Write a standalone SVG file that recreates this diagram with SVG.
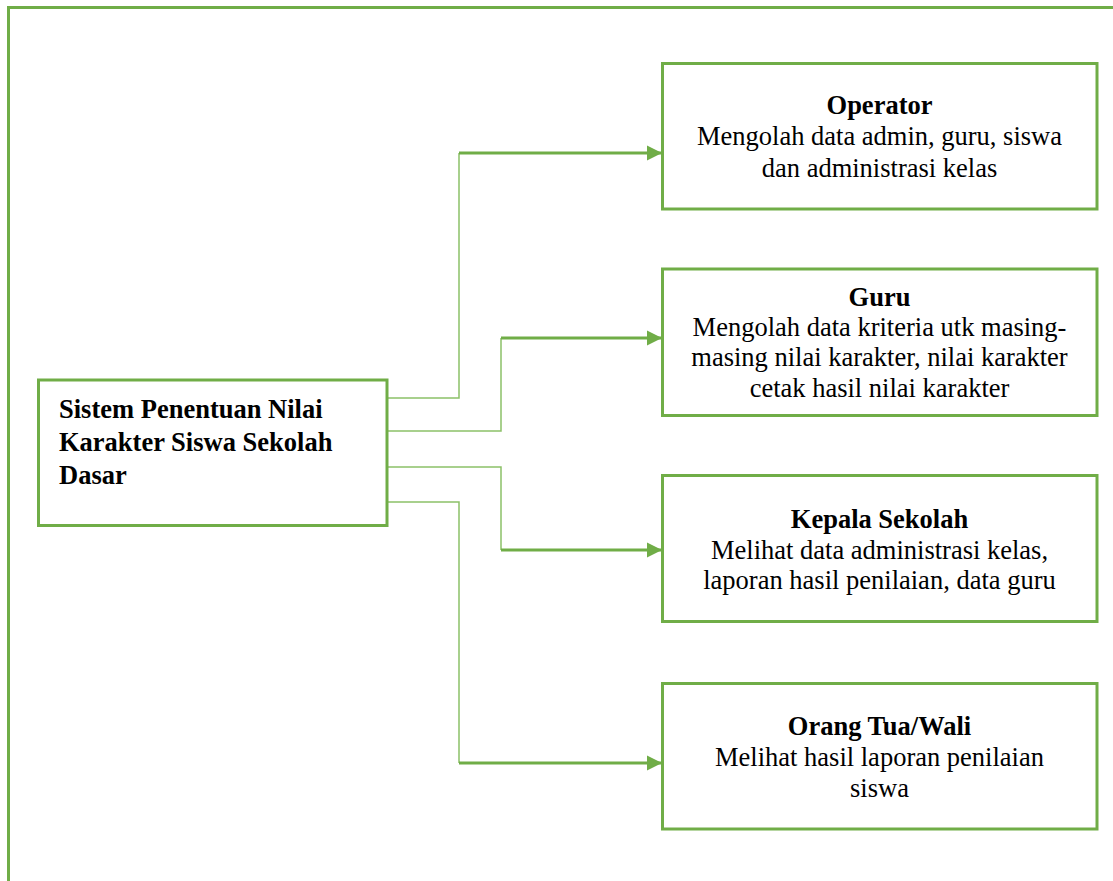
<svg xmlns="http://www.w3.org/2000/svg" width="1113" height="881" viewBox="0 0 1113 881">
<style>
.box{fill:#fff;stroke:#70ad47;stroke-width:3}
.frame{fill:none;stroke:#70ad47;stroke-width:3}
.thin{fill:none;stroke:#8cc168;stroke-width:1.5}
.thick{fill:none;stroke:#70ad47;stroke-width:3}
text{font-family:"Liberation Serif","Times New Roman",serif;font-size:26.5px;fill:#000}
.c{text-anchor:middle}
.b{font-weight:bold}
</style>
<defs>
<marker id="arr" markerUnits="userSpaceOnUse" markerWidth="16" markerHeight="16" refX="15" refY="8" orient="auto">
<path d="M0,0.5 L15,8 L0,15.5 Z" fill="#70ad47"/>
</marker>
</defs>
<rect width="1113" height="881" fill="#fff"/>
<path class="frame" d="M8.5,881 V7.5 H1113"/>
<g id="connectors">
<path class="thin" d="M387,398 H459 V153"/>
<path class="thick" d="M459,153 H662" marker-end="url(#arr)"/>
<path class="thin" d="M387,431 H501 V338"/>
<path class="thick" d="M501,338 H662" marker-end="url(#arr)"/>
<path class="thin" d="M387,467 H501 V550"/>
<path class="thick" d="M501,550 H662" marker-end="url(#arr)"/>
<path class="thin" d="M387,502 H459 V763"/>
<path class="thick" d="M459,763 H662" marker-end="url(#arr)"/>
</g>
<g id="sistem">
<rect class="box" x="38.5" y="380" width="348.5" height="145.5"/>
<text class="b" x="59" y="418">Sistem Penentuan Nilai</text>
<text class="b" x="59" y="451">Karakter Siswa Sekolah</text>
<text class="b" x="59" y="484">Dasar</text>
</g>
<g id="operator">
<rect class="box" x="662.5" y="63.5" width="434.5" height="145.5"/>
<text class="c b" x="879.5" y="114">Operator</text>
<text class="c" x="879.5" y="145">Mengolah data admin, guru, siswa</text>
<text class="c" x="879.5" y="177">dan administrasi kelas</text>
</g>
<g id="guru">
<rect class="box" x="662.5" y="269" width="434.5" height="146.5"/>
<text class="c b" x="879.5" y="306">Guru</text>
<text class="c" x="879.5" y="336">Mengolah data kriteria utk masing-</text>
<text class="c" x="879.5" y="366">masing nilai karakter, nilai karakter</text>
<text class="c" x="879.5" y="397">cetak hasil nilai karakter</text>
</g>
<g id="kepala">
<rect class="box" x="662.5" y="475.5" width="434.5" height="146"/>
<text class="c b" x="879.5" y="528">Kepala Sekolah</text>
<text class="c" x="879.5" y="559">Melihat data administrasi kelas,</text>
<text class="c" x="879.5" y="589">laporan hasil penilaian, data guru</text>
</g>
<g id="orangtua">
<rect class="box" x="662.5" y="683.5" width="434.5" height="145.5"/>
<text class="c b" x="879.5" y="735">Orang Tua/Wali</text>
<text class="c" x="879.5" y="766">Melihat hasil laporan penilaian</text>
<text class="c" x="879.5" y="797">siswa</text>
</g>
</svg>
